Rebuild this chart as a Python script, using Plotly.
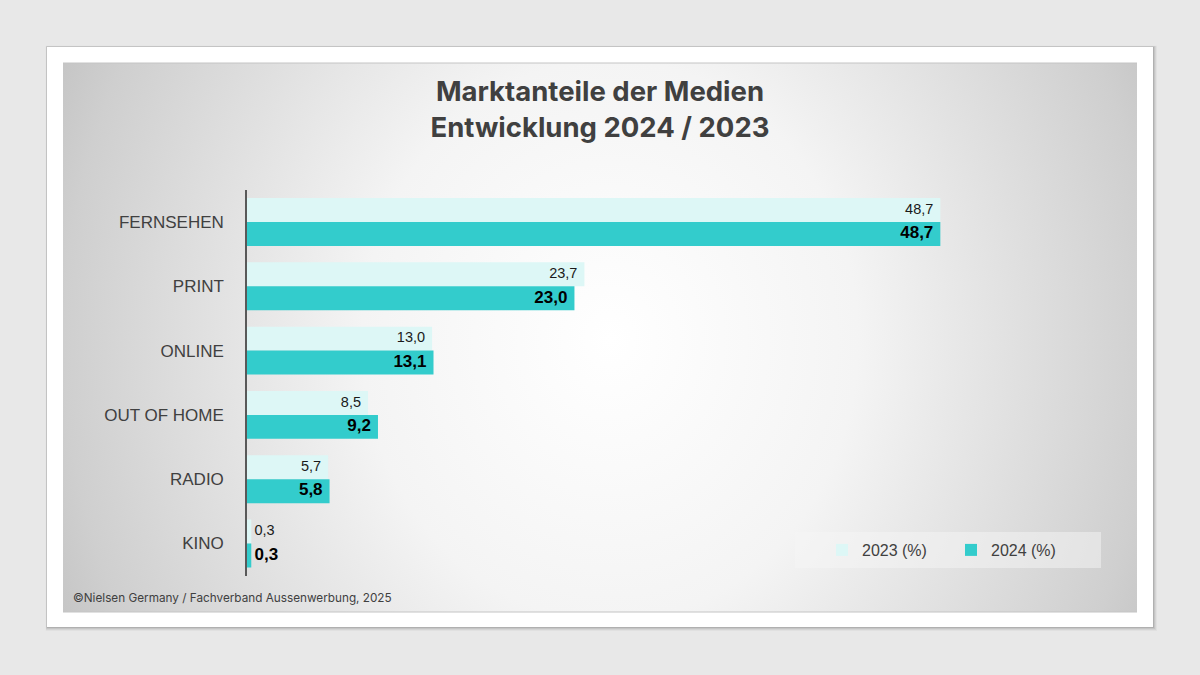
import plotly.graph_objects as go

# ---------------- data ----------------
categories = ["FERNSEHEN", "PRINT", "ONLINE", "OUT OF HOME", "RADIO", "KINO"]
share_2023 = [48.7, 23.7, 13.0, 8.5, 5.7, 0.3]
share_2024 = [48.7, 23.0, 13.1, 9.2, 5.8, 0.3]
series_names = ["2023 (%)", "2024 (%)"]
title_lines = ["Marktanteile der Medien", "Entwicklung 2024 / 2023"]
source_note = "©Nielsen Germany / Fachverband Aussenwerbung, 2025"

# ---------------- style ----------------
W, H = 1200, 675
C_2023 = "#ddf7f6"
C_2024 = "#33cccc"
TXT = "#404040"
SANS = "Liberation Sans, Arial, sans-serif"
TITLE_FONT = "Inter, Noto Sans, sans-serif"

def px_x(p):
    return p / W

def px_y(p):
    return 1 - p / H

pos = list(range(len(categories)))
BAR_W = 0.373


def fmt(v):
    return f"{v:.1f}".replace(".", ",")


fig = go.Figure()

# background panel with radial gradient (drawn on its own axes)
PX0, PX1, PY0, PY1 = 63, 1137, 63, 612
fig.add_trace(go.Scatter(
    x=[-10, 1230, 1230, -10, -10], y=[-360, -360, 1040, 1040, -360],
    mode="lines", fill="toself", line=dict(width=0),
    fillgradient=dict(type="radial",
                      colorscale=[[0, "#ffffff"], [0.4, "#f4f4f4"],
                                  [0.88, "#cfcfcf"], [1, "#c2c2c2"]]),
    hoverinfo="skip", showlegend=False, xaxis="x", yaxis="y"))

# bars
fig.add_trace(go.Bar(
    y=pos, x=share_2023, orientation="h", name=series_names[0],
    marker=dict(color=C_2023, line=dict(width=0)),
    width=BAR_W, offset=-BAR_W, xaxis="x2", yaxis="y2", hoverinfo="skip"))
fig.add_trace(go.Bar(
    y=pos, x=share_2024, orientation="h", name=series_names[1],
    marker=dict(color=C_2024, line=dict(width=0)),
    width=BAR_W, offset=0, xaxis="x2", yaxis="y2", hoverinfo="skip"))

# value labels
for vals, shift, font in [
    (share_2023, -BAR_W / 2, dict(family=SANS, size=14.5, color="#1a1a1a")),
    (share_2024, BAR_W / 2, dict(family=SANS, size=17, color="#000000", weight="bold")),
]:
    fig.add_trace(go.Scatter(
        x=vals, y=[p + shift for p in pos], mode="markers+text",
        text=[fmt(v) for v in vals],
        textposition=["middle left" if v > 2 else "middle right" for v in vals],
        marker=dict(size=[9.6 if v > 2 else 3.5 for v in vals], opacity=0),
        textfont=font, cliponaxis=False, hoverinfo="skip", showlegend=False,
        xaxis="x2", yaxis="y2"))

# decoration shapes: card with shadow, panel border lines, legend box
shapes = []
for d, a in [(4, 0.03), (3, 0.05), (2, 0.07), (1, 0.10)]:
    shapes.append(dict(type="rect", xref="paper", yref="paper", layer="below",
                       x0=px_x(47 - d / 3), x1=px_x(1153 + d), y0=px_y(627 + d), y1=px_y(47 - d / 3),
                       line=dict(width=0), fillcolor=f"rgba(0,0,0,{a})"))
shapes.append(dict(type="rect", xref="paper", yref="paper", layer="below",
                   x0=px_x(47), x1=px_x(1153), y0=px_y(627), y1=px_y(47),
                   line=dict(width=0), fillcolor="#ffffff"))
for yy in (PY0, PY1):
    shapes.append(dict(type="line", xref="paper", yref="paper", layer="above",
                       x0=px_x(PX0), x1=px_x(PX1), y0=px_y(yy), y1=px_y(yy),
                       line=dict(color="#c4c4c4", width=1)))
shapes.append(dict(type="rect", xref="paper", yref="paper", layer="above",
                   x0=px_x(795), x1=px_x(1101), y0=px_y(568), y1=px_y(532),
                   line=dict(width=0), fillcolor="rgba(245,245,245,0.5)"))

fig.update_layout(
    width=W, height=H,
    margin=dict(l=0, r=0, t=0, b=0),
    paper_bgcolor="#e8e8e8", plot_bgcolor="rgba(0,0,0,0)",
    barmode="overlay",
    title=dict(text="<br>".join(title_lines), x=0.5, xanchor="center",
               y=px_y(101), yanchor="top", yref="container",
               font=dict(family=TITLE_FONT, size=27.5, color=TXT, weight="bold")),
    xaxis=dict(domain=[px_x(PX0), px_x(PX1)], range=[PX0, PX1], visible=False, fixedrange=True),
    yaxis=dict(domain=[1 - PY1 / H, 1 - PY0 / H], range=[PY1, PY0], visible=False, fixedrange=True),
    xaxis2=dict(domain=[px_x(247), px_x(1100)], range=[0, 59.915], anchor="y2",
                showgrid=False, zeroline=False, showticklabels=False, showline=False, ticks="",
                fixedrange=True),
    yaxis2=dict(domain=[1 - 575.6 / H, 1 - 189.9 / H], range=[5.5, -0.5], anchor="x2",
                tickmode="array", tickvals=pos, ticktext=categories,
                showgrid=False, zeroline=False, showline=True, linecolor="#595959", linewidth=1.5,
                ticks="", ticklabelstandoff=18, fixedrange=True,
                tickfont=dict(family=SANS, size=17, color=TXT)),
    shapes=shapes,
    legend=dict(orientation="h", x=px_x(822), xanchor="left", y=px_y(550), yanchor="middle",
                bgcolor="rgba(0,0,0,0)", font=dict(family=SANS, size=16, color=TXT),
                entrywidth=84, traceorder="normal"),
    annotations=[dict(text=source_note, xref="paper", yref="paper", x=px_x(71), y=px_y(598),
                      xanchor="left", yanchor="middle", showarrow=False,
                      font=dict(family=TITLE_FONT, size=11.75, color=TXT))],
)

fig.write_html(
    "out.html",
    config={"displayModeBar": False},
    post_script="document.body.style.margin='0';document.body.style.background='#e8e8e8';",
)
